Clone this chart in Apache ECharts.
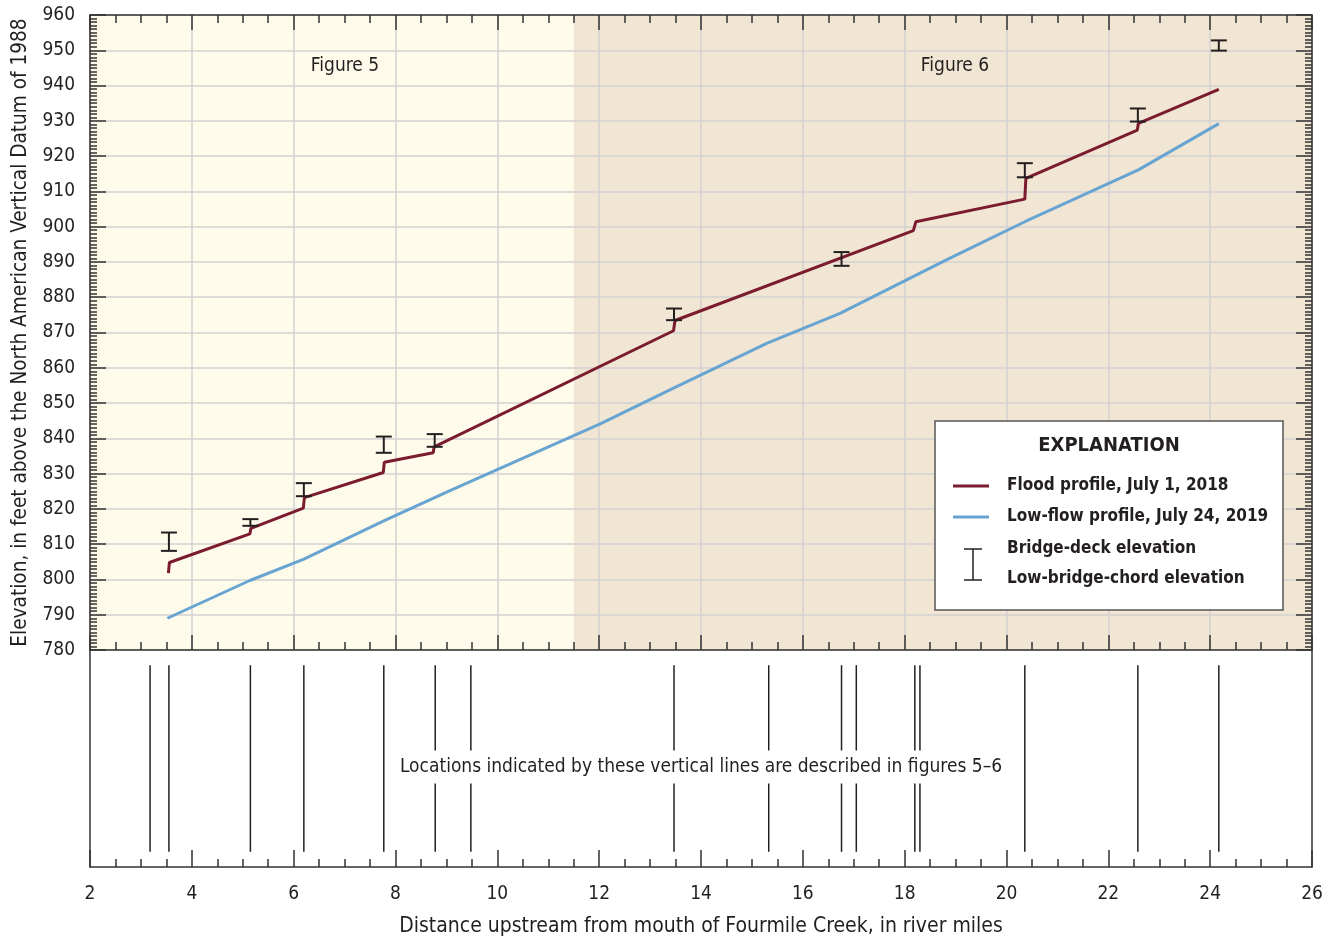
<!DOCTYPE html>
<html>
<head>
<meta charset="utf-8">
<title>Fourmile Creek profiles</title>
<script src="https://cdn.jsdelivr.net/npm/echarts@6/dist/echarts.min.js"></script>
<style>
  body { margin: 0; background: #fff; }
  #main { width: 1332px; height: 942px; }
</style>
</head>
<body>
<div id="main"></div>
<script>
// flood profile, July 1, 2018 (river mile, elevation ft)
var floodMiles = [3.54, 3.56, 5.14, 5.16, 6.19, 6.21, 7.76, 7.78, 8.74, 8.76, 13.46, 13.49, 18.17, 18.22, 20.36, 20.38, 22.57, 22.59, 24.17];
var floodElev  = [801.8, 804.8, 812.9, 814.5, 820.2, 823.2, 830.3, 833.2, 835.9, 837.6, 870.5, 873.4, 898.9, 901.4, 907.8, 913.7, 927.4, 929.3, 938.9];

// low-flow profile, July 24, 2019
var lowMiles = [3.52, 5.14, 6.19, 7.77, 9.07, 11.5, 12.02, 13.47, 15.29, 16.73, 18.82, 20.36, 22.59, 24.17];
var lowElev  = [789.0, 799.7, 805.7, 816.6, 825.2, 840.8, 844.1, 854.3, 866.9, 875.4, 890.6, 901.4, 916.1, 929.2];

// bridges: deck (top) and low chord (bottom)
var bridgeMiles = [3.55, 5.15, 6.2, 7.77, 8.77, 13.47, 16.76, 20.36, 22.58, 24.17];
var bridgeDeck  = [813.3, 817.1, 827.3, 840.5, 841.2, 876.8, 892.8, 918.0, 933.5, 952.8];
var bridgeChord = [808.1, 815.2, 823.6, 835.9, 837.6, 873.5, 888.9, 914.0, 929.8, 949.9];

// location lines in lower panel
var locationMiles = [3.18, 3.55, 5.15, 6.2, 7.77, 8.78, 9.48, 13.47, 15.33, 16.76, 17.05, 18.2, 18.3, 20.36, 22.58, 24.17];

// figure extents
var figureSplit = 11.5;

var RED = '#7b1c2e';
var BLUE = '#68a4d2';
var INK = '#231f20';
var FONT = "'Liberation Sans Narrow','DejaVu Sans Condensed',sans-serif";

var floodData = floodMiles.map(function (m, i) { return [m, floodElev[i]]; });
var lowData = lowMiles.map(function (m, i) { return [m, lowElev[i]]; });
var bridgeData = bridgeMiles.map(function (m, i) { return [m, bridgeDeck[i], bridgeChord[i]]; });
var locData = locationMiles.map(function (m) { return [m]; });

var myChart = echarts.init(document.getElementById('main'));

var tickStyle = { color: '#333', width: 1.5 };
var lineStyle = { color: '#333', width: 1.5 };
var gridLine = { show: true, lineStyle: { color: '#d2d2d2', width: 1.5 } };

function capBar(x, yTop, yBot, w) {
  var half = w / 2;
  var st = { stroke: INK, lineWidth: 2 };
  return {
    type: 'group',
    children: [
      { type: 'line', shape: { x1: x, y1: yTop, x2: x, y2: yBot }, style: st },
      { type: 'line', shape: { x1: x - half, y1: yTop, x2: x + half, y2: yTop }, style: st },
      { type: 'line', shape: { x1: x - half, y1: yBot, x2: x + half, y2: yBot }, style: st }
    ]
  };
}

// explanation box, drawn in page pixels
var LX = 935, LY = 421;
var legendItems = [
  { type: 'rect', z: 100, shape: { x: LX, y: LY, width: 348, height: 189 }, style: { fill: '#fff', stroke: '#555', lineWidth: 1.5 } },
  { type: 'text', z: 101, style: { text: 'EXPLANATION', x: LX + 174, y: LY + 25, align: 'center', verticalAlign: 'middle', font: 'bold 20px ' + FONT, fill: INK } },
  { type: 'line', z: 101, shape: { x1: LX + 18, y1: LY + 65, x2: LX + 54, y2: LY + 65 }, style: { stroke: RED, lineWidth: 3 } },
  { type: 'text', z: 101, style: { text: 'Flood profile, July 1, 2018', x: LX + 72, y: LY + 65, verticalAlign: 'middle', font: 'bold 17px ' + FONT, fill: INK } },
  { type: 'line', z: 101, shape: { x1: LX + 18, y1: LY + 96, x2: LX + 54, y2: LY + 96 }, style: { stroke: BLUE, lineWidth: 3 } },
  { type: 'text', z: 101, style: { text: 'Low-flow profile, July 24, 2019', x: LX + 72, y: LY + 96, verticalAlign: 'middle', font: 'bold 17px ' + FONT, fill: INK } },
  { type: 'line', z: 101, shape: { x1: LX + 38, y1: LY + 128, x2: LX + 38, y2: LY + 159 }, style: { stroke: INK, lineWidth: 1.5 } },
  { type: 'line', z: 101, shape: { x1: LX + 29, y1: LY + 128, x2: LX + 47, y2: LY + 128 }, style: { stroke: INK, lineWidth: 1.5 } },
  { type: 'line', z: 101, shape: { x1: LX + 29, y1: LY + 159, x2: LX + 47, y2: LY + 159 }, style: { stroke: INK, lineWidth: 1.5 } },
  { type: 'text', z: 101, style: { text: 'Bridge-deck elevation', x: LX + 72, y: LY + 128, verticalAlign: 'middle', font: 'bold 17px ' + FONT, fill: INK } },
  { type: 'text', z: 101, style: { text: 'Low-bridge-chord elevation', x: LX + 72, y: LY + 158, verticalAlign: 'middle', font: 'bold 17px ' + FONT, fill: INK } }
];

myChart.setOption({
  animation: false,
  textStyle: { fontFamily: FONT },
  grid: [
    { left: 90, top: 15, width: 1222, height: 635 },
    { left: 90, top: 650, width: 1222, height: 217 }
  ],
  xAxis: [
    {
      type: 'value', gridIndex: 0, position: 'bottom', min: 2, max: 26, interval: 2, z: 2,
      axisLine: { show: true, lineStyle: lineStyle },
      axisTick: { inside: true, length: 15, lineStyle: tickStyle },
      minorTick: { show: true, splitNumber: 4, length: 8, lineStyle: tickStyle },
      axisLabel: { show: false },
      splitLine: gridLine
    },
    {
      type: 'value', gridIndex: 0, position: 'top', min: 2, max: 26, interval: 2, z: 2,
      axisLine: { show: true, lineStyle: lineStyle },
      axisTick: { inside: true, length: 15, lineStyle: tickStyle },
      minorTick: { show: true, splitNumber: 4, length: 8, lineStyle: tickStyle },
      axisLabel: { show: false },
      splitLine: { show: false }
    },
    {
      type: 'value', gridIndex: 1, position: 'bottom', min: 2, max: 26, interval: 2, z: 2,
      axisLine: { show: true, lineStyle: lineStyle },
      axisTick: { inside: true, length: 17, lineStyle: tickStyle },
      minorTick: { show: true, splitNumber: 4, length: 8, lineStyle: tickStyle },
      axisLabel: { margin: 18, fontSize: 19, color: INK, fontFamily: FONT },
      splitLine: { show: false },
      name: 'Distance upstream from mouth of Fourmile Creek, in river miles',
      nameLocation: 'middle', nameGap: 49,
      nameTextStyle: { fontSize: 21, color: INK, fontFamily: FONT }
    }
  ],
  yAxis: [
    {
      type: 'value', gridIndex: 0, position: 'left', min: 780, max: 960, interval: 10, z: 2,
      axisLine: { show: true, lineStyle: lineStyle },
      axisTick: { inside: true, length: 16, lineStyle: tickStyle },
      minorTick: { show: true, splitNumber: 10, length: 7, lineStyle: tickStyle },
      axisLabel: { margin: 15, fontSize: 19, color: INK, fontFamily: FONT },
      splitLine: gridLine,
      name: 'Elevation, in feet above the North American Vertical Datum of 1988',
      nameLocation: 'middle', nameRotate: 90, nameGap: 59,
      nameTextStyle: { fontSize: 20.6, color: INK, fontFamily: FONT }
    },
    {
      type: 'value', gridIndex: 0, position: 'right', min: 780, max: 960, interval: 10, z: 2,
      axisLine: { show: true, lineStyle: lineStyle },
      axisTick: { inside: true, length: 16, lineStyle: tickStyle },
      minorTick: { show: true, splitNumber: 10, length: 7, lineStyle: tickStyle },
      axisLabel: { show: false },
      splitLine: { show: false }
    },
    {
      type: 'value', gridIndex: 1, position: 'left', min: 0, max: 1, z: 2,
      axisLine: { show: true, lineStyle: lineStyle },
      axisTick: { show: false }, axisLabel: { show: false }, splitLine: { show: false }
    },
    {
      type: 'value', gridIndex: 1, position: 'right', min: 0, max: 1, z: 2,
      axisLine: { show: true, lineStyle: lineStyle },
      axisTick: { show: false }, axisLabel: { show: false }, splitLine: { show: false }
    }
  ],
  series: [
    {
      name: 'bg', type: 'line', xAxisIndex: 0, yAxisIndex: 0, data: [], z: 1, silent: true,
      markArea: {
        silent: true,
        label: { show: false },
        data: [
          [{ xAxis: 2, itemStyle: { color: '#fffbea' } }, { xAxis: figureSplit }],
          [{ xAxis: figureSplit, itemStyle: { color: '#f1e6d3' } }, { xAxis: 26 }]
        ]
      }
    },
    {
      name: 'Flood profile, July 1, 2018', type: 'line', xAxisIndex: 0, yAxisIndex: 0,
      data: floodData, showSymbol: false, z: 5,
      lineStyle: { color: RED, width: 3 }
    },
    {
      name: 'Low-flow profile, July 24, 2019', type: 'line', xAxisIndex: 0, yAxisIndex: 0,
      data: lowData, showSymbol: false, z: 5,
      lineStyle: { color: BLUE, width: 3 }
    },
    {
      name: 'Bridges', type: 'custom', xAxisIndex: 0, yAxisIndex: 0, z: 6,
      encode: { x: 0, y: [1, 2] },
      data: bridgeData,
      renderItem: function (params, api) {
        var top = api.coord([api.value(0), api.value(1)]);
        var bot = api.coord([api.value(0), api.value(2)]);
        return capBar(top[0], top[1], bot[1], 16);
      }
    },
    {
      name: 'Locations', type: 'custom', xAxisIndex: 2, yAxisIndex: 2, z: 3,
      encode: { x: 0 },
      data: locData,
      renderItem: function (params, api) {
        var a = api.coord([api.value(0), 0.93]);
        var b = api.coord([api.value(0), 0.07]);
        return {
          type: 'line',
          shape: { x1: a[0], y1: a[1], x2: b[0], y2: b[1] },
          style: { stroke: INK, lineWidth: 1.5 }
        };
      }
    }
  ],
  graphic: [
    { type: 'text', z: 100, style: { text: 'Figure 5', x: 345, y: 66, align: 'center', verticalAlign: 'middle', font: '19px ' + FONT, fill: INK } },
    { type: 'text', z: 100, style: { text: 'Figure 6', x: 955, y: 66, align: 'center', verticalAlign: 'middle', font: '19px ' + FONT, fill: INK } },
    {
      type: 'text', z: 100,
      style: {
        text: 'Locations indicated by these vertical lines are described in figures 5\u20136',
        x: 701, y: 767, align: 'center', verticalAlign: 'middle',
        font: '19px ' + FONT, fill: INK,
        backgroundColor: '#fff', padding: [7, 3]
      }
    }
  ].concat(legendItems)
});
</script>
</body>
</html>
